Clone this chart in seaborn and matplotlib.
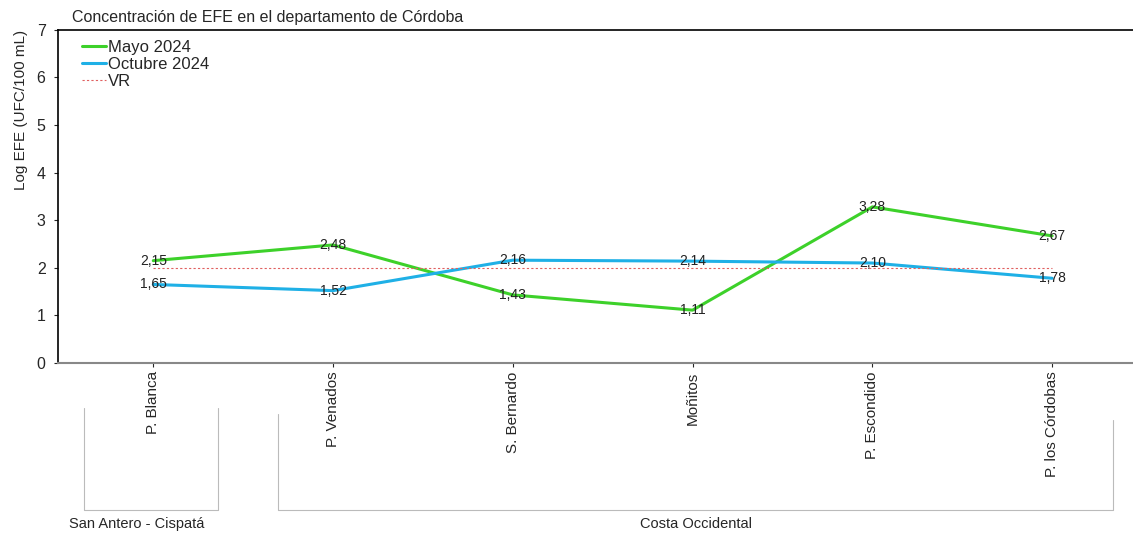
import pandas as pd
import seaborn as sns
import matplotlib.pyplot as plt

sites = ["P. Blanca", "P. Venados", "S. Bernardo", "Moñitos", "P. Escondido", "P. los Córdobas"]
mayo = [2.15, 2.48, 1.43, 1.11, 3.28, 2.67]
octubre = [1.65, 1.52, 2.16, 2.14, 2.10, 1.78]
vr = [2, 2, 2, 2, 2, 2]
groups = ["San Antero - Cispatá", "Costa Occidental"]

sns.set_style("white")
plt.rcParams["font.family"] = ["Liberation Sans", "DejaVu Sans"]

df = pd.DataFrame({"sitio": sites, "Mayo 2024": mayo, "Octubre 2024": octubre, "VR": vr})

fig = plt.figure(figsize=(11.33, 5.33), dpi=100)
ax = fig.add_axes([0.0512, 0.319, 0.9488, 0.625])

sns.lineplot(data=df, x="sitio", y="Mayo 2024", color="#3dd12a", lw=2.2, label="Mayo 2024", sort=False, ax=ax)
sns.lineplot(data=df, x="sitio", y="Octubre 2024", color="#1fb0e6", lw=2.2, label="Octubre 2024", sort=False, ax=ax)
sns.lineplot(data=df, x="sitio", y="VR", color="#e06060", lw=0.8, ls=(0, (2, 2)), label="VR", sort=False, ax=ax)

for i, (m, o) in enumerate(zip(mayo, octubre)):
    for v in (m, o):
        ax.text(i, v, f"{v:.2f}".replace(".", ","), ha="center", va="center", fontsize=10, color="#222222")

ax.set_xlim(-0.53, 5.45)
ax.set_ylim(0, 7)
ax.set_yticks(range(8))
ax.set_xlabel("")
ax.set_ylabel("Log EFE (UFC/100 mL)", fontsize=11, loc="top")
ax.yaxis.set_label_coords(-0.028, 1.0)
ax.set_xticks(range(len(sites)))
ax.set_xticklabels(sites, rotation=90, fontsize=11)
ax.tick_params(axis="y", labelsize=11.5, length=3, direction="out", left=True, pad=6)
ax.tick_params(axis="x", length=3, direction="out", bottom=True, pad=3)

ax.spines["right"].set_visible(False)
ax.spines["left"].set_color("black")
ax.spines["top"].set_color("black")
ax.spines["bottom"].set_color("#888888")
ax.spines["bottom"].set_linewidth(1.5)
ax.spines["left"].set_linewidth(1.2)
ax.spines["top"].set_linewidth(1.2)

leg = ax.legend(loc="upper left", bbox_to_anchor=(0.022, 0.97), frameon=False, fontsize=12,
                handlelength=1.45, handletextpad=0.15, labelspacing=0.12,
                borderaxespad=0, borderpad=0)

ax.set_title("Concentración de EFE en el departamento de Córdoba", loc="left", fontsize=11.5, x=0.013, pad=6)

# group brackets under the axis
tr = ax.get_xaxis_transform()
ax.plot([-0.384, -0.384, 0.362, 0.362], [-0.135, -0.441, -0.441, -0.135], color="#bbbbbb", lw=0.8, transform=tr, clip_on=False)
ax.plot([0.695, 0.695, 5.339, 5.339], [-0.153, -0.441, -0.441, -0.171], color="#bbbbbb", lw=0.8, transform=tr, clip_on=False)
ax.text(-0.09, -0.483, groups[0], ha="center", va="center", fontsize=10.5, transform=tr)
ax.text(3.02, -0.483, groups[1], ha="center", va="center", fontsize=10.5, transform=tr)

fig.savefig("out.png", dpi=100)
